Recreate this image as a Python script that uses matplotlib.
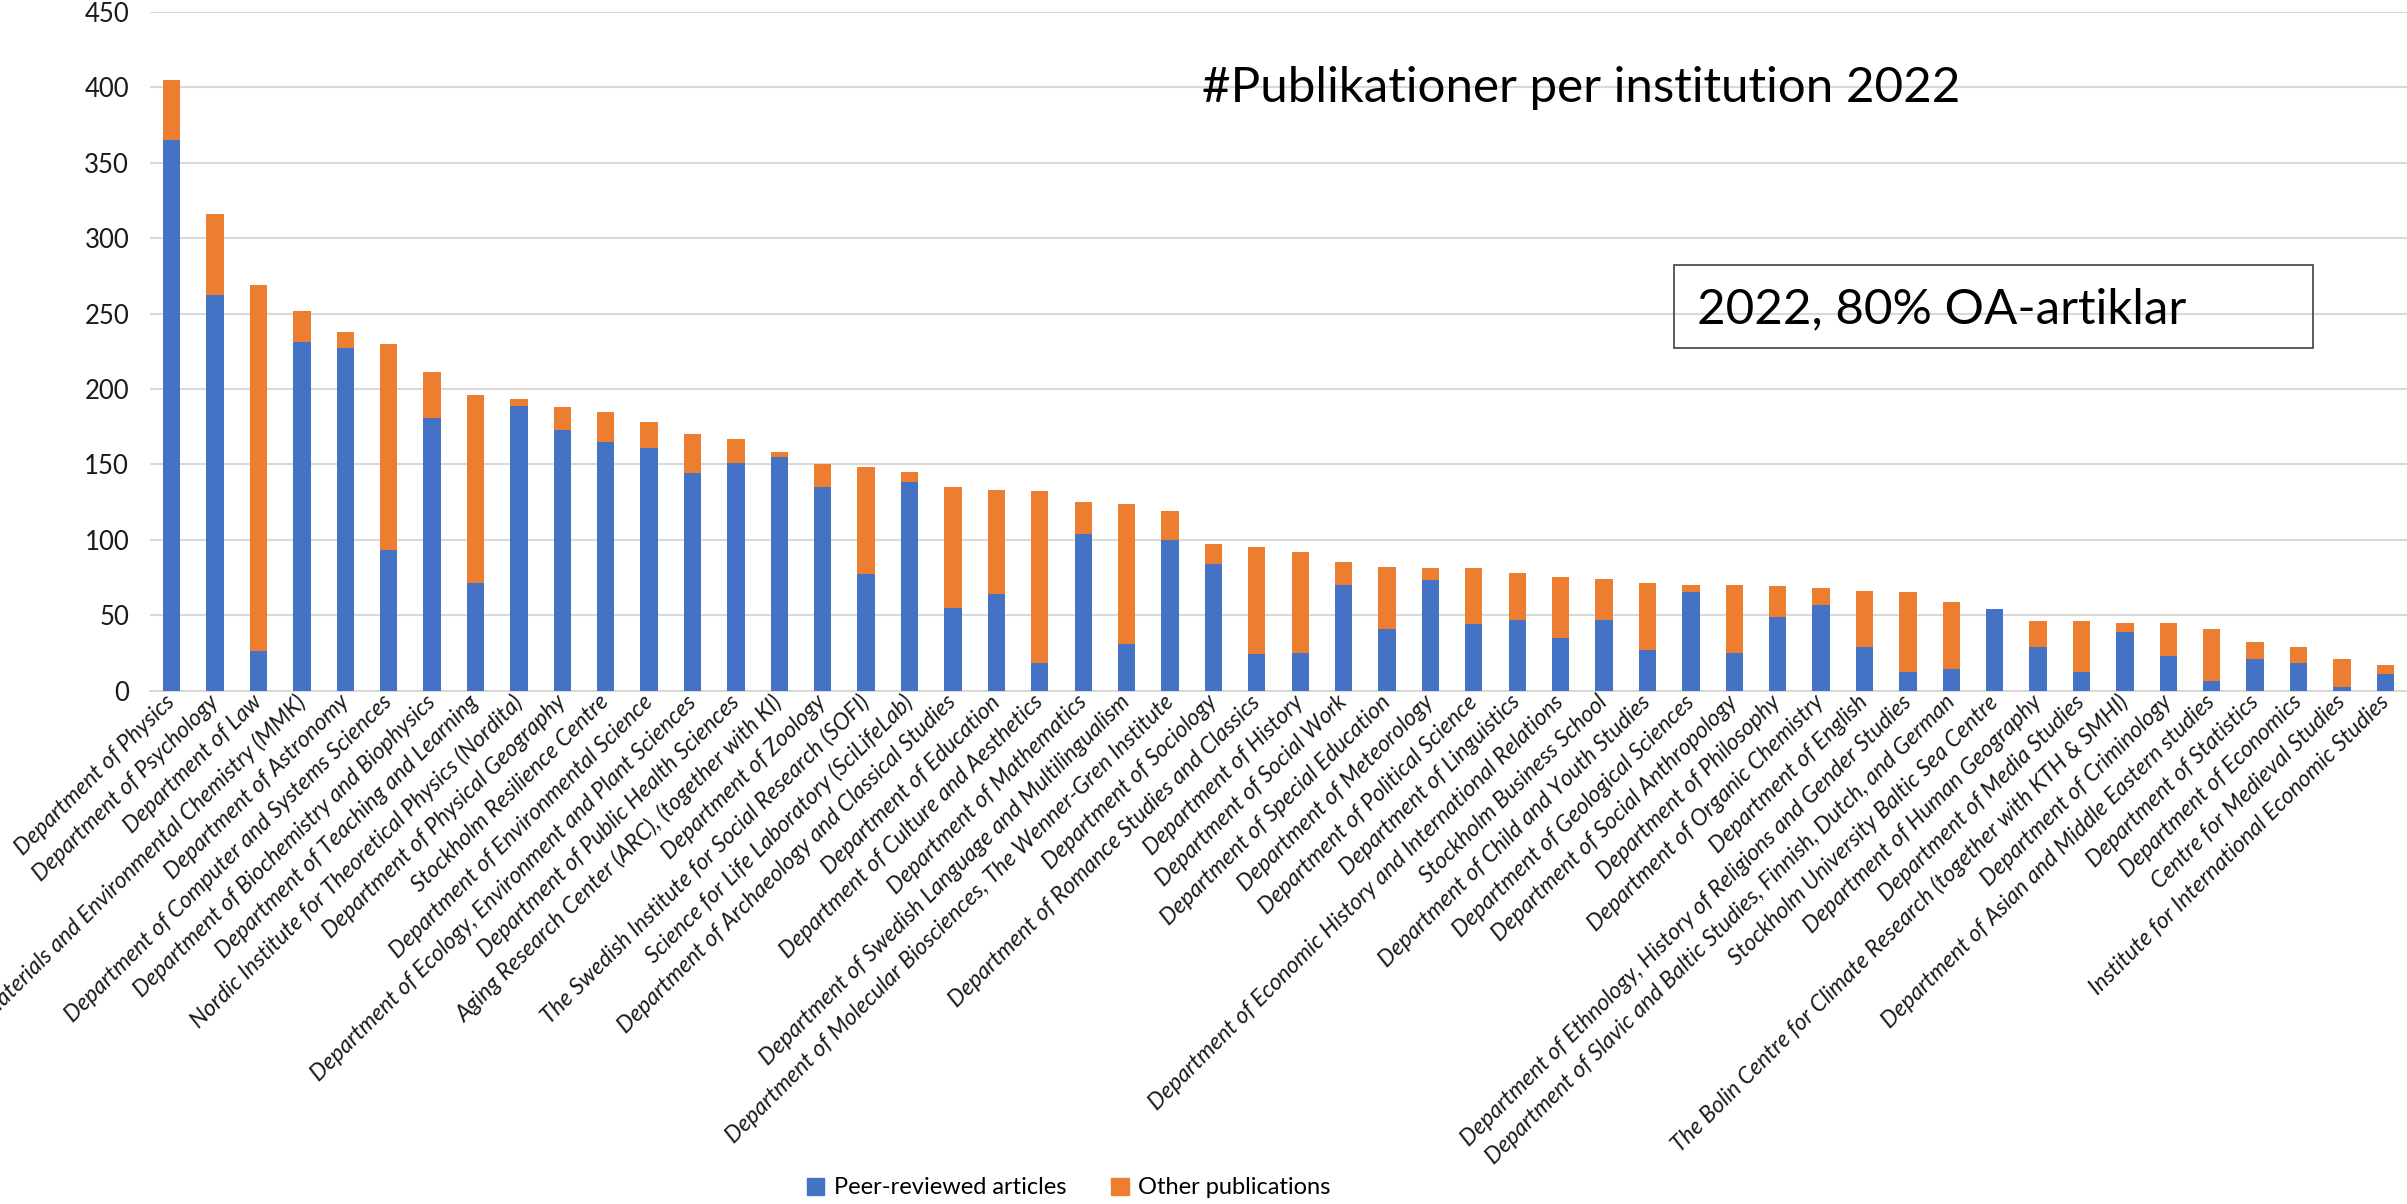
import matplotlib
matplotlib.use("Agg")
from matplotlib import pyplot as plt
from matplotlib.patches import Rectangle, Patch
import numpy as np

plt.rcParams['font.family'] = ['Lato', 'DejaVu Sans']

institutions = [
    "Department of Physics",
    "Department of Psychology",
    "Department of Law",
    "Department of Materials and Environmental Chemistry (MMK)",
    "Department of Astronomy",
    "Department of Computer and Systems Sciences",
    "Department of Biochemistry and Biophysics",
    "Department of Teaching and Learning",
    "Nordic Institute for Theoretical Physics (Nordita)",
    "Department of Physical Geography",
    "Stockholm Resilience Centre",
    "Department of Environmental Science",
    "Department of Ecology, Environment and Plant Sciences",
    "Department of Public Health Sciences",
    "Aging Research Center (ARC), (together with KI)",
    "Department of Zoology",
    "The Swedish Institute for Social Research (SOFI)",
    "Science for Life Laboratory (SciLifeLab)",
    "Department of Archaeology and Classical Studies",
    "Department of Education",
    "Department of Culture and Aesthetics",
    "Department of Mathematics",
    "Department of Swedish Language and Multilingualism",
    "Department of Molecular Biosciences, The Wenner-Gren Institute",
    "Department of Sociology",
    "Department of Romance Studies and Classics",
    "Department of History",
    "Department of Social Work",
    "Department of Special Education",
    "Department of Meteorology",
    "Department of Political Science",
    "Department of Linguistics",
    "Department of Economic History and International Relations",
    "Stockholm Business School",
    "Department of Child and Youth Studies",
    "Department of Geological Sciences",
    "Department of Social Anthropology",
    "Department of Philosophy",
    "Department of Organic Chemistry",
    "Department of English",
    "Department of Ethnology, History of Religions and Gender Studies",
    "Department of Slavic and Baltic Studies, Finnish, Dutch, and German",
    "Stockholm University Baltic Sea Centre",
    "Department of Human Geography",
    "Department of Media Studies",
    "The Bolin Centre for Climate Research (together with KTH & SMHI)",
    "Department of Criminology",
    "Department of Asian and Middle Eastern studies",
    "Department of Statistics",
    "Department of Economics",
    "Centre for Medieval Studies",
    "Institute for International Economic Studies",
]

peer_reviewed = [365, 262, 26, 231, 227, 93, 181, 71, 189, 173,
                 165, 161, 144, 151, 155, 135, 77, 138, 55, 64,
                 18, 104, 31, 100, 84, 24, 25, 70, 41, 73,
                 44, 47, 35, 47, 27, 65, 25, 49, 57, 29,
                 12, 14, 54, 29, 12, 39, 23, 6, 21, 18,
                 2, 11]
other_pubs = [40, 54, 243, 21, 11, 137, 30, 125, 4, 15,
              20, 17, 26, 16, 3, 15, 71, 7, 80, 69,
              114, 21, 93, 19, 13, 71, 67, 15, 41, 8,
              37, 31, 40, 27, 44, 5, 45, 20, 11, 37,
              53, 45, 0, 17, 34, 6, 22, 35, 11, 11,
              19, 6]

blue = "#4472C4"
orange = "#ED7D31"
grid_col = "#D9D9D9"

W, H = 2407, 1204
fig = plt.figure(figsize=(W / 100, H / 100), dpi=100)
ax = fig.add_axes([150 / W, 1 - 690.5 / H, 1 - 150 / W, 678.5 / H])

x = np.arange(len(institutions))
ax.bar(x, peer_reviewed, width=0.4, color=blue, zorder=3)
ax.bar(x, other_pubs, width=0.4, bottom=peer_reviewed, color=orange, zorder=3)

ax.set_xlim(-0.5, len(institutions) - 0.5)
ax.set_ylim(0, 450)
ax.set_yticks(np.arange(0, 451, 50))
ax.grid(axis='y', color=grid_col, linewidth=1.5, zorder=0)
ax.set_axisbelow(True)
for s in ['top', 'right', 'left']:
    ax.spines[s].set_visible(False)
ax.spines['bottom'].set_color(grid_col)
ax.spines['bottom'].set_linewidth(1.5)
ax.tick_params(axis='y', length=0, pad=15, labelsize=18.5)
ax.tick_params(axis='x', length=0, pad=6)
ax.set_xticks(x)
ax.set_xticklabels(institutions, rotation=45, ha='right', va='center',
                   rotation_mode='anchor', fontsize=16.5, style='italic',
                   color='#1a1a1a')
for t in ax.get_yticklabels():
    t.set_color('#1a1a1a')

# title and note box
fig.text(1202 / W, 1 - 102 / H, "#Publikationer per institution 2022",
         fontsize=35.5, va='baseline', ha='left', color='black')
fig.patches.append(Rectangle((1674 / W, 1 - 348 / H), 639 / W, 83 / H,
                             transform=fig.transFigure, fill=False,
                             edgecolor='#404040', linewidth=1.2))
fig.text(1697 / W, 1 - 323 / H, "2022, 80% OA-artiklar",
         fontsize=35.5, va='baseline', ha='left', color='black')

handles = [Patch(color=blue, label="Peer-reviewed articles"),
           Patch(color=orange, label="Other publications")]
fig.legend(handles=handles, loc='center', bbox_to_anchor=(0.444, 1 - 1188 / H),
           ncol=2, frameon=False, fontsize=17, handlelength=0.75,
           handleheight=0.75, columnspacing=1.9, handletextpad=0.4)

fig.savefig("out.png", dpi=100)
